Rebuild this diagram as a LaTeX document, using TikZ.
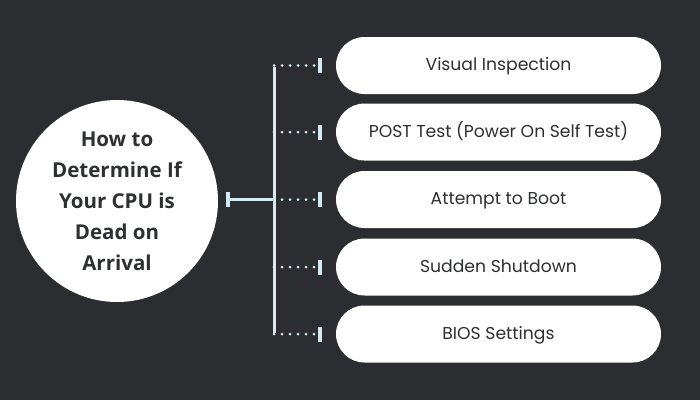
\documentclass[tikz,border=0pt]{standalone}
\usepackage{fontspec}
\setmainfont{Poppins}
\newfontfamily\titlefont{Open Sans}
\definecolor{bgdark}{HTML}{2B2D30}
\definecolor{linkblue}{HTML}{D3ECF3}
\definecolor{textdark}{HTML}{2E2F31}
\tikzset{
  pill/.style={fill=white, rounded corners=28.5pt, minimum width=325pt,
    minimum height=57pt, text=textdark, font=\fontsize{17.2}{20}\selectfont,
    text height=1.05em, text depth=0pt},
  link/.style={draw=linkblue, line width=3pt},
  dots/.style={draw=linkblue, line width=3pt, line cap=round,
    dash pattern=on 0pt off 8pt},
  tick/.style={draw=linkblue, line width=3.5pt}
}
\begin{document}
\begin{tikzpicture}[x=1pt,y=-1pt]
  \useasboundingbox[fill=bgdark] (0,0) rectangle (700,400);
  % centre circle
  \node[circle, fill=white, minimum size=202pt, inner sep=0pt, align=center,
    text=textdark, font=\titlefont\bfseries\fontsize{20.5}{31}\selectfont]
    (topic) at (117,201) {How to\\Determine If\\Your CPU is\\Dead on\\Arrival};
  % the five checks
  \node[pill] (p1) at (498.5,65.5) {Visual Inspection};
  \node[pill] (p2) at (498.5,132) {POST Test (Power On Self Test)};
  \node[pill] (p3) at (498.5,199.5) {Attempt to Boot};
  \node[pill] (p4) at (498.5,267) {Sudden Shutdown};
  \node[pill] (p5) at (498.5,334) {BIOS Settings};
  % trunk
  \coordinate (start) at (228,199.5);
  \coordinate (top) at (274,67);
  \coordinate (bot) at (274,333);
  \draw[link] (top) -- (bot);
  \draw[link] (start) -- (start -| top);
  \draw[tick] ([yshift=-7.5pt]start) -- ([yshift=7.5pt]start);
  \foreach \p in {p1,p2,p3,p4,p5} {
    \coordinate (\p-end) at ([xshift=-16pt]\p.west);
    \draw[dots] (\p-end -| top) -- (\p-end);
    \draw[tick] ([yshift=-7.5pt]\p-end) -- ([yshift=7.5pt]\p-end);
  }
\end{tikzpicture}
\end{document}
